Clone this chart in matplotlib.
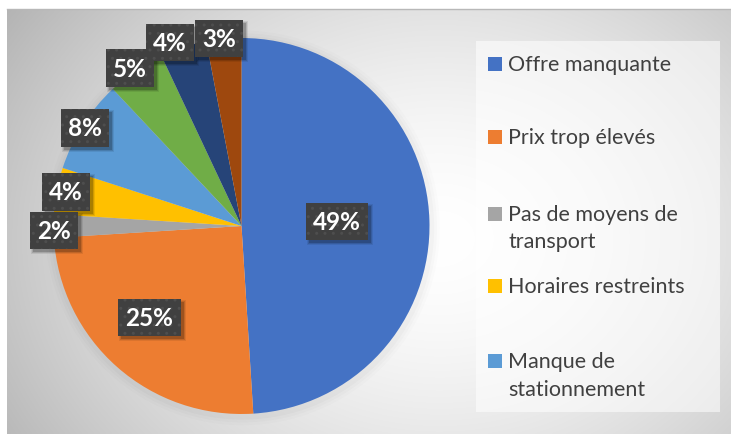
import numpy as np
import matplotlib
matplotlib.use("Agg")
import matplotlib.pyplot as plt
from matplotlib.patches import Rectangle

# ---------------- data ----------------
values = [49, 25, 2, 4, 8, 5, 4, 3]
colors = ["#4472C4", "#ED7D31", "#A5A5A5", "#FFC000", "#5B9BD5",
          "#70AD47", "#264478", "#9E480E"]
legend_labels = ["Offre manquante", "Prix trop élevés",
                 "Pas de moyens de\ntransport", "Horaires restreints",
                 "Manque de\nstationnement"]

# label placement (style): radial distance and angle nudge (deg)
label_dist = [0.509, 0.69, 0.998, 0.951, 0.981, 1.028, 1.047, 1.005]
label_nudge = [0.9, -3.8, 1.4, -0.2, 0.3, 1.1, 3.3, 1.5]

W, H = 731, 435
fig = plt.figure(figsize=(W / 100, H / 100), dpi=100)
fig.patch.set_facecolor("white")

def fx(px):
    return px / W

def fy(py):
    return 1 - py / H

# ---------------- background gradient ----------------
ax_bg = fig.add_axes([fx(7), 0, fx(W - 7), (H - 10) / H])
ax_bg.set_axis_off()
xs = np.linspace(7, W, 400)
ys = np.linspace(10, H, 250)
XX, YY = np.meshgrid(xs, ys)
cx, cy = 440, 240
d = np.sqrt(((XX - cx) / 1.0) ** 2 + ((YY - cy) / 0.8) ** 2)
g = 1.0 - 0.25 * np.clip(d / 470, 0, 1.2) ** 1.6
img = np.dstack([g, g, g])
ax_bg.imshow(img, extent=[0, 1, 0, 1], aspect="auto", origin="upper",
             interpolation="bilinear")
ax_bg.set_xlim(0, 1)
ax_bg.set_ylim(0, 1)
fig.add_artist(plt.Line2D([fx(7), 1], [fy(10), fy(10)], color="#b8b8b8",
                          lw=1, transform=fig.transFigure))

# ---------------- legend box ----------------
fig.add_artist(Rectangle((fx(476), fy(413)), fx(720 - 476), (413 - 42) / H,
                         transform=fig.transFigure, facecolor="white",
                         alpha=0.55, edgecolor="none", zorder=1))

# ---------------- pie ----------------
R = 188
pcx, pcy = 241.5, 227
ax = fig.add_axes([fx(pcx - R), fy(pcy + R), 2 * R / W, 2 * R / H])
ax.set_zorder(2)
# faint soft halo under pie
for k, a in zip([1.05, 1.035, 1.02], [0.012, 0.015, 0.02]):
    ax.add_patch(plt.Circle((0.005, -0.01), k, color="black", alpha=a,
                            lw=0, clip_on=False))
wedges, _ = ax.pie(values, colors=colors, startangle=90, counterclock=False,
                   radius=1, wedgeprops=dict(linewidth=0))
ax.set_xlim(-1, 1)
ax.set_ylim(-1, 1)
ax.set_aspect("equal")
ax.set_axis_off()

font = "Lato"
label_texts = []
for w, v, r, nd in zip(wedges, values, label_dist, label_nudge):
    ang = np.deg2rad((w.theta1 + w.theta2) / 2 + nd)
    x, y = r * np.cos(ang), r * np.sin(ang)
    t = ax.text(x, y, f"{v}%", ha="center", va="center", fontsize=17.5,
                fontweight="bold", family=font, color="white",
                bbox=dict(boxstyle="square,pad=0.3", facecolor="#404040",
                          edgecolor="#4e4e4e", linewidth=0, hatch=".."),
                clip_on=False, zorder=5)
    label_texts.append(t)

# ---------------- legend entries ----------------
legend_rows = [65, 138, 215, 287, 362]
line_gap = 27.5
for lab, col, yy in zip(legend_labels, colors, legend_rows):
    fig.add_artist(Rectangle((fx(488), fy(yy + 7)), fx(14), 14 / H,
                             transform=fig.transFigure, facecolor=col,
                             edgecolor="none", zorder=3))
    for i, line in enumerate(lab.split("\n")):
        fig.text(fx(508), fy(yy + i * line_gap), line, ha="left",
                 va="center", fontsize=15.5, family=font, color="#404040",
                 zorder=3)

# ---------------- label box shadows (inside pie axes, under labels) ----------------
fig.canvas.draw()
inv = ax.transData.inverted()
for t in label_texts:
    bb = t.get_bbox_patch().get_window_extent()
    for grow, a in [(2.0, 0.08), (1.0, 0.12), (0.0, 0.18)]:
        x0, y0 = inv.transform((bb.x0 + 3 - grow, bb.y0 - 3 - grow))
        x1, y1 = inv.transform((bb.x1 + 3 + grow, bb.y1 - 3 + grow))
        ax.add_patch(Rectangle((x0, y0), x1 - x0, y1 - y0,
                               facecolor="black", alpha=a, edgecolor="none",
                               zorder=4, clip_on=False))

fig.savefig("out.png", dpi=100, facecolor=fig.get_facecolor())
